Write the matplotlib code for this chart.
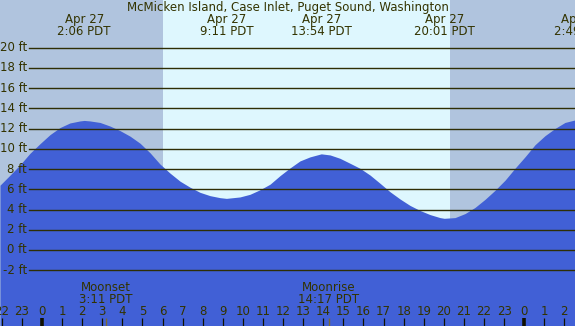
import matplotlib
matplotlib.use("Agg")
import matplotlib.pyplot as plt
import matplotlib.transforms as mtransforms

# ---- data ----
title = "McMicken Island, Case Inlet, Puget Sound, Washington"

hours = [-2.09, -1.59, -1.10, -0.60, -0.10, 0.40, 0.90, 1.39, 1.89, 2.10, 2.39, 2.89,
         3.38, 3.88, 4.38, 4.88, 5.38, 5.87, 6.37, 6.87, 7.37, 7.86, 8.36, 8.86, 9.18,
         9.85, 10.35, 10.85, 11.35, 11.85, 12.34, 12.84, 13.34, 13.90, 14.34, 14.83,
         15.33, 15.83, 16.33, 16.82, 17.32, 17.82, 18.32, 18.82, 19.31, 19.81, 20.02,
         20.56, 21.06, 21.55, 22.05, 22.55, 23.05, 23.54, 24.04, 24.54, 25.04, 25.53,
         26.03, 26.53]
heights = [6.4, 7.4, 8.4, 9.55, 10.5, 11.4, 12.1, 12.55, 12.75, 12.8, 12.75, 12.6,
           12.25, 11.8, 11.25, 10.55, 9.6, 8.5, 7.6, 6.8, 6.2, 5.7, 5.37, 5.17, 5.1,
           5.24, 5.5, 5.95, 6.5, 7.35, 8.1, 8.8, 9.2, 9.5, 9.39, 9.06,
           8.57, 8.07, 7.4, 6.6, 5.76, 5.04, 4.4, 3.9, 3.5, 3.2, 3.13,
           3.2, 3.6, 4.2, 5.0, 5.9, 6.9, 8.07, 9.2, 10.4, 11.3, 12.0,
           12.6, 12.85]

extreme_times = [2.10, 9.18, 13.90, 20.02, 26.82]
extreme_dates = ["Apr 27", "Apr 27", "Apr 27", "Apr 27", "Apr 28"]
extreme_labels = ["2:06 PDT", "9:11 PDT", "13:54 PDT", "20:01 PDT", "2:49 PDT"]

sunrise = 6.02
sunset = 20.29

moon_times = [3.18, 14.28]
moon_names = ["Moonset", "Moonrise"]
moon_labels = ["3:11 PDT", "14:17 PDT"]

ft_levels = [-2, 0, 2, 4, 6, 8, 10, 12, 14, 16, 18, 20]
hour_ticks = list(range(-2, 27))

# ---- style ----
W, H = 575, 326
night_c = "#B0C4DE"
day_c = "#DEF7FE"
fill_c = "#4160D6"
line_c = "#2E2E05"
text_c = "#333300"
fs = 8.5

x0, x1 = -2.09, 26.53
y_top, y_bot = 24.70, -7.51

fig = plt.figure(figsize=(W / 100, H / 100), dpi=100)
ax = fig.add_axes([0, 0, 1, 1])
ax.set_xlim(x0, x1)
ax.set_ylim(y_bot, y_top)
ax.axis("off")

# background day/night
ax.axvspan(x0, sunrise, color=night_c, lw=0, zorder=0)
ax.axvspan(sunrise, sunset, color=day_c, lw=0, zorder=0)
ax.axvspan(sunset, x1, color=night_c, lw=0, zorder=0)

# tide fill
ax.fill_between(hours, heights, y_bot, color=fill_c, lw=0, zorder=1)

# horizontal grid lines + labels
bt = mtransforms.blended_transform_factory(ax.transAxes, ax.transData)
for lv in ft_levels:
    ax.axhline(lv, xmin=29 / W, xmax=1, color=line_c, lw=1.0, zorder=2)
    ax.text(27 / W, lv, f"{lv} ft", transform=bt, ha="right", va="center",
            fontsize=fs, color=text_c, zorder=3)

tx = mtransforms.blended_transform_factory(ax.transData, ax.transAxes)

def fy(px):
    return 1 - px / H

# title
ax.text(0.5, fy(7.5), title, transform=ax.transAxes, ha="center", va="center",
        fontsize=fs, color=text_c, zorder=4)

# extreme labels
for t, d, lab in zip(extreme_times, extreme_dates, extreme_labels):
    ax.text(t, fy(19.5), d, transform=tx, ha="center", va="center",
            fontsize=fs, color=text_c, zorder=4)
    ax.text(t, fy(31.5), lab, transform=tx, ha="center", va="center",
            fontsize=fs, color=text_c, zorder=4)

# moon labels
for t, n, lab in zip(moon_times, moon_names, moon_labels):
    ax.text(t, fy(287.5), n, transform=tx, ha="center", va="center",
            fontsize=fs, color=text_c, zorder=4)
    ax.text(t, fy(299.3), lab, transform=tx, ha="center", va="center",
            fontsize=fs, color=text_c, zorder=4)
    ax.plot([t, t], [fy(318), fy(326)], transform=tx, color="#7A6A30",
            lw=1.0, zorder=4, solid_capstyle="butt")

# hour ticks and labels
for h in hour_ticks:
    ax.text(h, fy(311.7), str(h % 24), transform=tx, ha="center", va="center",
            fontsize=fs, color=text_c, zorder=4)
    lw = 2.6 if h % 24 == 0 else 0.9
    ax.plot([h, h], [fy(318), fy(326)], transform=tx, color="#111100",
            lw=lw, zorder=4, solid_capstyle="butt")

fig.savefig("out.png", dpi=100)
